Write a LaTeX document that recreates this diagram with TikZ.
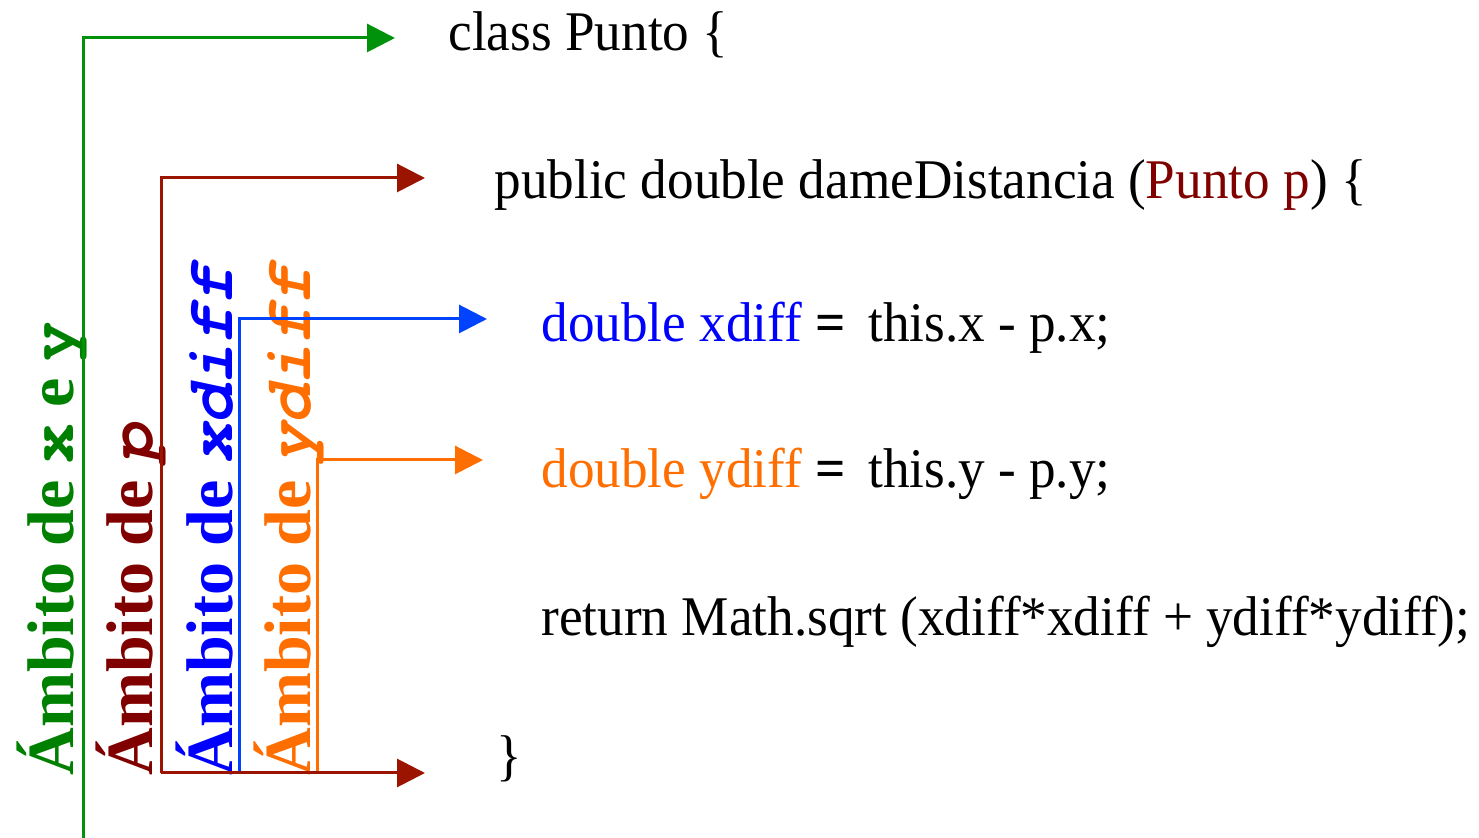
\documentclass[tikz,border=0pt]{standalone}
\usepackage{fontspec}
\setmainfont{Liberation Serif}
\newfontfamily\codigofont[FakeStretch=0.95]{Liberation Serif}
\newfontfamily\tipofont[Ligatures=NoCommon]{TeX Gyre Cursor}
\usetikzlibrary{arrows.meta}
\definecolor{verdeL}{HTML}{00920A}
\definecolor{verdeT}{HTML}{008000}
\definecolor{rojoL}{HTML}{9A1400}
\definecolor{rojoT}{HTML}{800000}
\definecolor{azulL}{HTML}{0044FF}
\definecolor{azulT}{HTML}{0000FF}
\definecolor{naranja}{HTML}{FF6E00}

\begin{document}
\begin{tikzpicture}[x=0.5pt,y=-0.5pt,line width=1.5pt,
                    >={Triangle[length=14pt,width=14pt]},
                    codigo/.style={anchor=base west,inner sep=0pt,
                      font=\codigofont\fontsize{28}{30}\selectfont},
                    ambito/.style={anchor=base west,inner sep=0pt,rotate=90,
                      font=\fontsize{33}{36}\selectfont\bfseries}]
  \useasboundingbox (0,0) rectangle (1479,838);
  % codigo
  \node[codigo] (clase) at (447,51) {class Punto \{};
  \node[codigo] (metodo) at (493,199)
    {public double dameDistancia (\textcolor{rojoT}{Punto p}) \{};
  \node[codigo] (declX) at (540,342)
    {\textcolor{azulT}{double xdiff} {\bfseries =}\, this.x - p.x;};
  \node[codigo] (declY) at (540,488)
    {\textcolor{naranja}{double ydiff} {\bfseries =}\, this.y - p.y;};
  \node[codigo] (retorno) at (540,636)
    {return Math.sqrt (xdiff*xdiff + ydiff*ydiff);};
  \node[codigo] (cierre) at (495,775) {\}};
  % ambitos
  \node[ambito,text=verdeT] (ambXY) at (73,777)
    {Ámbito de {\tipofont x} e {\tipofont y}};
  \node[ambito,text=rojoT] (ambP) at (152,777)
    {Ámbito de {\tipofont\itshape p}};
  \node[ambito,text=azulT] (ambX) at (232,777)
    {Ámbito de {\tipofont\itshape xdiff}};
  \node[ambito,text=naranja] (ambY) at (310,777)
    {Ámbito de {\tipofont\itshape ydiff}};
  % flechas
  \coordinate (vBase) at (83,838);
  \coordinate (rBase) at (161,773);
  \coordinate (aBase) at (239,773);
  \coordinate (nBase) at (317,773);
  \coordinate (pClase) at (395,38);
  \coordinate (pMetodo) at (425,178);
  \coordinate (pXdiff) at (487,319);
  \coordinate (pYdiff) at (483,460);
  \coordinate (pFin) at (425,773);
  \draw[->,verdeL] (vBase) |- (pClase);
  \draw[->,azulL] (aBase) |- (pXdiff);
  \draw[->,naranja] (nBase) |- (pYdiff);
  \draw[->,rojoL] (rBase) |- (pMetodo);
  \draw[->,rojoL] (rBase) -- (pFin);
\end{tikzpicture}
\end{document}
